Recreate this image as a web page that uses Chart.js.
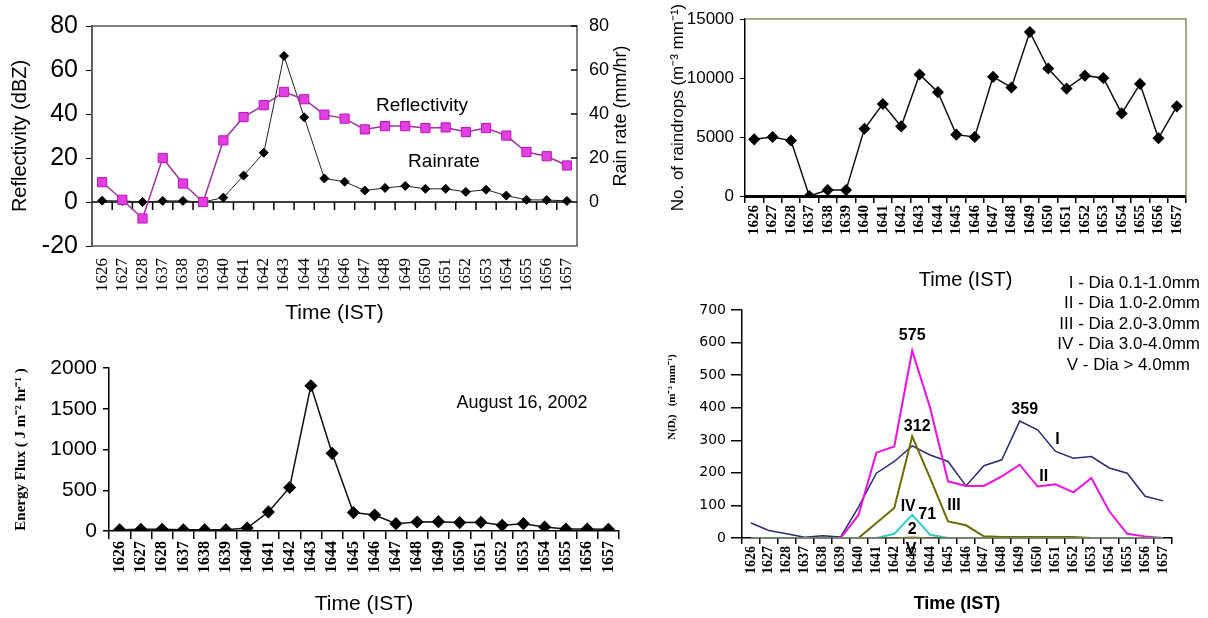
<!DOCTYPE html>
<html>
<head>
<meta charset="utf-8">
<script src="https://cdn.jsdelivr.net/npm/chart.js@4.4.0/dist/chart.umd.min.js"></script>
<style>
  body { margin: 0; background: #fff; }
  #wrap { position: relative; width: 1208px; height: 618px; background: #fff; overflow: hidden; }
  canvas { position: absolute; }
</style>
</head>
<body>
<div id="wrap">
  <canvas id="refl" width="640" height="330" style="left:0px;top:0px"></canvas>
  <canvas id="drops" width="588" height="300" style="left:620px;top:0px"></canvas>
  <canvas id="flux" width="640" height="278" style="left:0px;top:340px"></canvas>
  <canvas id="dsd" width="568" height="358" style="left:640px;top:260px"></canvas>
</div>
<script>
// time axis (IST), same for all four panels
var times = ['1626','1627','1628','1637','1638','1639','1640','1641','1642','1643','1644','1645',
             '1646','1647','1648','1649','1650','1651','1652','1653','1654','1655','1656','1657'];

// panel a: reflectivity (dBZ) and rain rate (mm/hr)
var reflectivity = [9, 1, -7.5, 20, 8.4, 0, 28, 38.6, 44, 50, 46.7, 39.7, 37.9, 33, 34.5, 34.5, 33.6, 33.9, 31.8, 33.6, 30.2, 22.7, 20.8, 16.6];
var rainRate = [0.6, 0.5, 0, 0.5, 0.5, 0, 2, 12, 22.4, 66.4, 38.5, 10.7, 9.2, 5.2, 6.4, 7.3, 6, 6, 4.6, 5.6, 2.9, 1, 0.9, 0.5];

// panel b: number of raindrops
var raindrops = [4800, 5000, 4700, 0, 500, 500, 5700, 7800, 5900, 10300, 8800, 5200, 5000, 10100, 9200, 13900, 10800, 9100, 10200, 10000, 7000, 9500, 4900, 7600];

// panel c: energy flux
var energyFlux = [15, 20, 20, 15, 15, 15, 37, 234, 534, 1782, 953, 226, 197, 90, 111, 115, 103, 107, 70, 90, 49, 25, 25, 20];

// panel d: N(Di) per diameter class
var diaI   = [46, 23, 13, 2, 7, 3, 95, 199, 235, 283, 255, 235, 160, 222, 240, 359, 332, 266, 245, 250, 215, 199, 128, 114];
var diaII  = [0, 0, 0, 0, 0, 0, 70, 262, 281, 575, 400, 174, 160, 160, 189, 225, 158, 165, 140, 184, 82, 13, 5, 0];
var diaIII = [0, 0, 0, 0, 0, 0, 0, 46, 92, 312, 184, 51, 39, 5, 3, 3, 3, 3, 3, 0, 0, 0, 0, 0];
var diaIV  = [0, 0, 0, 0, 0, 0, 0, 0, 13, 71, 10, 0, 0, 0, 0, 0, 0, 0, 0, 0, 0, 0, 0, 0];
var diaV   = [0, 0, 0, 0, 0, 0, 0, 0, 0, 2, 0, 0, 0, 0, 0, 0, 0, 0, 0, 0, 0, 0, 0, 0];
var dsdLegend = ['I - Dia 0.1-1.0mm', 'II - Dia 1.0-2.0mm', 'III - Dia 2.0-3.0mm', 'IV - Dia 3.0-4.0mm', 'V - Dia > 4.0mm'];

var SANS = 'Liberation Sans, Arial, sans-serif';
var SERIF = 'Liberation Serif, Times New Roman, serif';

Chart.defaults.color = '#000';
Chart.defaults.animation = false;
Chart.defaults.responsive = false;
Chart.defaults.devicePixelRatio = 1;
Chart.defaults.plugins.legend.display = false;
Chart.defaults.plugins.tooltip.enabled = false;
Chart.defaults.elements.line.tension = 0;

// free text: labels, notes, rotated titles
function makeNotes(items) {
  return {
    id: 'notes',
    afterDatasetsDraw: function(chart) {
      var ctx = chart.ctx;
      items.forEach(function(t) {
        var x = t.x, y = t.y;
        if (t.at) {
          x = chart.scales.x.getPixelForValue(t.at[0]) + (t.dx || 0);
          y = chart.scales[t.axis || 'y'].getPixelForValue(t.at[1]) + (t.dy || 0);
        }
        ctx.save();
        ctx.font = t.font;
        ctx.fillStyle = t.color || '#000';
        ctx.textAlign = t.align || 'center';
        ctx.textBaseline = 'middle';
        ctx.translate(x, y);
        if (t.rotate) ctx.rotate(t.rotate);
        ctx.fillText(t.text, 0, 0);
        ctx.restore();
      });
    }
  };
}

function fixW(w) { return function(s) { s.width = w; }; }
function fixH(h) { return function(s) { s.height = h; }; }
function plain(v) { return String(v); }

// ---------- panel a ----------
var reflFrame = {
  id: 'reflFrame',
  beforeDatasetsDraw: function(chart) {
    var ctx = chart.ctx, a = chart.chartArea, xs = chart.scales.x;
    var y0 = chart.scales.y.getPixelForValue(0);
    ctx.save();
    ctx.strokeStyle = '#555';
    ctx.lineWidth = 1.5;
    ctx.strokeRect(a.left, a.top, a.right - a.left, a.bottom - a.top);
    ctx.strokeStyle = '#000';
    ctx.beginPath();
    ctx.moveTo(a.left, y0); ctx.lineTo(a.right, y0);
    for (var i = 1; i < times.length; i++) {
      var bx = (xs.getPixelForValue(i - 1) + xs.getPixelForValue(i)) / 2;
      ctx.moveTo(bx, y0); ctx.lineTo(bx, y0 + 8);
    }
    [0, 20, 40, 60, 80].forEach(function(v) {
      var yy = chart.scales.y2.getPixelForValue(v);
      ctx.moveTo(a.right - 6, yy); ctx.lineTo(a.right, yy);
    });
    ctx.stroke();
    ctx.restore();
  }
};

new Chart('refl', {
  type: 'line',
  data: {
    labels: times,
    datasets: [{
      label: 'Reflectivity',
      data: reflectivity,
      yAxisID: 'y',
      borderColor: '#a0309f',
      borderWidth: 1.5,
      pointStyle: 'rect',
      pointRadius: 6.5,
      pointBackgroundColor: '#e040e0',
      pointBorderColor: '#c010c0',
      pointBorderWidth: 1
    }, {
      label: 'Rainrate',
      data: rainRate,
      yAxisID: 'y2',
      borderColor: '#222',
      borderWidth: 1,
      pointStyle: 'rectRot',
      pointRadius: 4.5,
      pointBackgroundColor: '#000',
      pointBorderColor: '#000'
    }]
  },
  options: {
    layout: { padding: { top: 26, left: 0, right: 0, bottom: 0 } },
    scales: {
      x: {
        offset: true,
        afterFit: fixH(84),
        grid: { display: false },
        border: { display: false },
        ticks: { autoSkip: false, minRotation: 90, maxRotation: 90, padding: 4, font: { family: SERIF, size: 17 } },
        title: { display: true, text: 'Time (IST)', font: { family: SANS, size: 21 }, padding: { top: 0, bottom: 4 } }
      },
      y: {
        position: 'left',
        min: -20, max: 80,
        afterFit: fixW(92),
        grid: { drawOnChartArea: false, tickLength: 6, color: '#000' },
        border: { color: '#555', width: 1.5 },
        ticks: { stepSize: 20, padding: 8, font: { family: SANS, size: 25 } },
        title: { display: true, text: 'Reflectivity (dBZ)', font: { family: SANS, size: 20 }, padding: { top: 8, bottom: 0 } }
      },
      y2: {
        position: 'right',
        min: -20, max: 80,
        afterFit: fixW(63),
        grid: { display: false },
        border: { display: false },
        ticks: {
          stepSize: 20, padding: 4, font: { family: SANS, size: 18 },
          callback: function(v) { return v < 0 ? '' : String(v); }
        }
      }
    }
  },
  plugins: [reflFrame, makeNotes([
    { text: 'Reflectivity', x: 422, y: 106, font: '19px ' + SANS },
    { text: 'Rainrate', x: 444, y: 162, font: '19px ' + SANS },
    { text: 'Rain rate (mm/hr)', x: 621, y: 116, rotate: -Math.PI / 2, font: '18px ' + SANS }
  ])]
});

// ---------- panel b ----------
var dropsFrame = {
  id: 'dropsFrame',
  beforeDatasetsDraw: function(chart) {
    var ctx = chart.ctx, a = chart.chartArea;
    ctx.save();
    ctx.strokeStyle = '#8c8c5a';
    ctx.lineWidth = 1.5;
    ctx.beginPath();
    ctx.moveTo(a.left, a.top); ctx.lineTo(a.right, a.top); ctx.lineTo(a.right, a.bottom);
    ctx.stroke();
    ctx.restore();
  }
};

new Chart('drops', {
  type: 'line',
  data: {
    labels: times,
    datasets: [{
      label: 'No. of raindrops',
      data: raindrops,
      borderColor: '#111',
      borderWidth: 1.5,
      pointStyle: 'rectRot',
      pointRadius: 5,
      pointBackgroundColor: '#000',
      pointBorderColor: '#000'
    }]
  },
  options: {
    layout: { padding: { top: 19, left: 0, right: 22, bottom: 0 } },
    scales: {
      x: {
        offset: true,
        afterFit: fixH(104),
        grid: { drawOnChartArea: false, offset: true, tickLength: 7, color: '#000', lineWidth: 1.5 },
        border: { color: '#000', width: 3 },
        ticks: { autoSkip: false, minRotation: 90, maxRotation: 90, padding: 2, font: { family: SERIF, size: 15, weight: 'bold' } },
        title: { display: true, text: 'Time (IST)', font: { family: SANS, size: 20 }, padding: { top: 0, bottom: 8 } }
      },
      y: {
        min: 0, max: 15000,
        afterFit: fixW(125),
        grid: { drawOnChartArea: false, tickLength: 5, color: '#000' },
        border: { color: '#000', width: 1.5 },
        ticks: { stepSize: 5000, padding: 6, font: { family: SANS, size: 17 }, callback: plain },
        title: { display: true, text: 'No. of raindrops (m⁻³ mm⁻¹)', font: { family: SANS, size: 17 }, padding: { top: 48, bottom: 0 } }
      }
    }
  },
  plugins: [dropsFrame]
});

// ---------- panel c ----------
new Chart('flux', {
  type: 'line',
  data: {
    labels: times,
    datasets: [{
      label: 'Energy Flux',
      data: energyFlux,
      borderColor: '#111',
      borderWidth: 1.5,
      pointStyle: 'rectRot',
      pointRadius: 5.5,
      pointBackgroundColor: '#000',
      pointBorderColor: '#000'
    }]
  },
  options: {
    layout: { padding: { top: 28, left: 0, right: 21, bottom: 0 } },
    scales: {
      x: {
        offset: true,
        afterFit: fixH(87),
        grid: { drawOnChartArea: false, offset: true, tickLength: 8, color: '#000', lineWidth: 1.5 },
        border: { color: '#000', width: 1.5 },
        ticks: { autoSkip: false, minRotation: 90, maxRotation: 90, padding: 2, font: { family: SERIF, size: 16, weight: 'bold' } },
        title: { display: true, text: 'Time (IST)', font: { family: SANS, size: 21 }, padding: { top: 0, bottom: 1 } }
      },
      y: {
        min: 0, max: 2000,
        afterFit: fixW(109),
        grid: { drawOnChartArea: false, tickLength: 6, color: '#000', lineWidth: 1.5 },
        border: { color: '#000', width: 1.5 },
        ticks: { stepSize: 500, padding: 6, font: { family: SANS, size: 21 }, callback: plain },
        title: { display: true, text: 'Energy Flux ( J m⁻² hr⁻¹ )', font: { family: SERIF, size: 15, weight: 'bold' }, padding: { top: 12, bottom: 0 } }
      }
    }
  },
  plugins: [makeNotes([
    { text: 'August 16, 2002', x: 522, y: 63, font: '18px ' + SANS }
  ])]
});

// ---------- panel d ----------
var dsdNotes = dsdLegend.map(function(s, i) {
  return { text: s, x: i === 4 ? 550 : 560, y: 23 + i * 20.5, align: 'right', font: '17px ' + SANS };
}).concat([
  { text: 'N(Dᵢ)   (m⁻³ mm⁻¹)', x: 32, y: 137, rotate: -Math.PI / 2, font: 'bold 11px ' + SERIF },
  { text: '575', at: [9, diaII[9]], dy: -15, font: 'bold 16px ' + SANS },
  { text: '312', at: [9, diaIII[9]], dx: 5, dy: -10, font: 'bold 16px ' + SANS },
  { text: '359', at: [15, diaI[15]], dx: 5, dy: -11, font: 'bold 16px ' + SANS },
  { text: 'I', at: [17, diaI[17]], dx: 2, dy: -12, font: 'bold 16px ' + SANS },
  { text: 'II', at: [16, diaII[16]], dx: 6, dy: -10, font: 'bold 16px ' + SANS },
  { text: 'III', at: [11, diaIII[11]], dx: 6, dy: -16, font: 'bold 16px ' + SANS },
  { text: 'IV', at: [9, diaIV[9]], dx: -4, dy: -8, font: 'bold 16px ' + SANS },
  { text: '71', at: [9, diaIV[9]], dx: 15, dy: 0, font: 'bold 16px ' + SANS },
  { text: '2', at: [9, diaV[9]], dx: 0, dy: -8, font: 'bold 16px ' + SANS },
  { text: 'V', at: [9, diaV[9]], dx: -1, dy: 12, font: 'bold 16px ' + SANS }
]);

new Chart('dsd', {
  type: 'line',
  data: {
    labels: times,
    datasets: [
      { label: 'V',   data: diaV,   borderColor: '#7a7a30', borderWidth: 1.5, pointRadius: 0 },
      { label: 'IV',  data: diaIV,  borderColor: '#33cccc', borderWidth: 2, pointRadius: 0 },
      { label: 'III', data: diaIII, borderColor: '#6b6b00', borderWidth: 2, pointRadius: 0 },
      { label: 'II',  data: diaII,  borderColor: '#ee10e0', borderWidth: 2, pointRadius: 0 },
      { label: 'I',   data: diaI,   borderColor: '#2a2a78', borderWidth: 1.5, pointRadius: 0 }
    ]
  },
  options: {
    layout: { padding: { top: 50, left: 0, right: 36, bottom: 0 } },
    scales: {
      x: {
        offset: true,
        afterFit: fixH(80),
        grid: { drawOnChartArea: false, offset: true, tickLength: 6, color: '#000', lineWidth: 1.5 },
        border: { color: '#000', width: 1.5 },
        ticks: { autoSkip: false, minRotation: 90, maxRotation: 90, padding: 2, font: { family: SERIF, size: 14, weight: 'bold' } },
        title: { display: true, text: 'Time (IST)', font: { family: SANS, size: 18, weight: 'bold' }, padding: { top: 0, bottom: 3 } }
      },
      y: {
        min: 0, max: 700,
        afterFit: fixW(102),
        grid: { drawOnChartArea: false, tickLength: 11, color: '#000', lineWidth: 1.5 },
        border: { color: '#000', width: 1.5 },
        ticks: { stepSize: 100, padding: 5, font: { family: 'DejaVu Sans, sans-serif', size: 14 }, callback: plain }
      }
    }
  },
  plugins: [makeNotes(dsdNotes)]
});
</script>
</body>
</html>
